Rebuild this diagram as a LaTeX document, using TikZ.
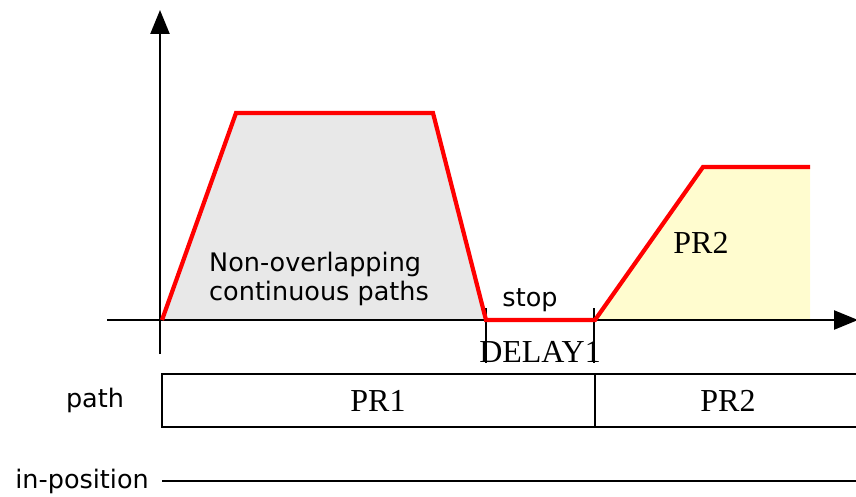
\documentclass[tikz,border=0pt]{standalone}
\usepackage{fontspec}
\setmainfont{Liberation Serif}
\newfontfamily\labelfont{DejaVu Sans}
\usetikzlibrary{arrows.meta}
\definecolor{grayfill}{HTML}{E8E8E8}
\definecolor{yellowfill}{HTML}{FFFCCF}
\tikzset{
  axis/.style={line width=2.4pt,-{Triangle[length=24pt,width=19pt]}},
  profile/.style={red,line width=4.2pt,line join=miter},
  frame/.style={line width=1.8pt},
  sanslabel/.style={font=\labelfont\fontsize{25.5}{29}\selectfont,inner sep=0pt},
  seriflabel/.style={font=\fontsize{32}{34}\selectfont,inner sep=0pt},
}
\begin{document}
\begin{tikzpicture}[x=1pt,y=-1pt]
\useasboundingbox (0,0) rectangle (856,497);
% key points
\coordinate (o) at (162,320);
\coordinate (a) at (236,113);
\coordinate (b) at (433,113);
\coordinate (c) at (486,320);
\coordinate (d) at (595,320);
\coordinate (e) at (703,167);
\coordinate (f) at (810,167);
\coordinate (g) at (810,320);
% fills
\fill[grayfill] (o) -- (a) -- (b) -- (c) -- cycle;
\fill[yellowfill] (d) -- (e) -- (f) -- (g) -- cycle;
% axes
\coordinate (vbot) at (160,354);
\coordinate (vtop) at (160,10);
\coordinate (hleft) at (107,320);
\coordinate (hright) at (858,320);
\draw[axis] (vbot) -- (vtop);
\draw[axis] (hleft) -- (hright);
% delay ticks
\coordinate (c1) at (486,308);
\coordinate (c2) at (486,363);
\coordinate (d1) at (594,308);
\coordinate (d2) at (594,363);
\draw[frame] (c1) -- (c2);
\draw[frame] (d1) -- (d2);
% profile
\draw[profile] (o) -- (a) -- (b) -- (c) -- (d) -- (e) -- (f);
% labels
\node[sanslabel,align=left,anchor=west] (txt) at (209,279) {Non-overlapping\\continuous paths};
\node[sanslabel] (stop) at (530,300) {stop};
\node[seriflabel] (delay) at (540,352) {DELAY1};
\node[seriflabel] (pr2a) at (701,243) {PR2};
% path row
\coordinate (p1) at (162,374);
\coordinate (p2) at (857,374);
\coordinate (p3) at (857,427);
\coordinate (p4) at (162,427);
\coordinate (pm1) at (595,374);
\coordinate (pm2) at (595,427);
\draw[frame] (p2) -- (p1) -- (p4) -- (p3);
\draw[frame] (pm1) -- (pm2);
\node[sanslabel] (pathlbl) at (95,400) {path};
\node[seriflabel] (pr1) at (378,401) {PR1};
\node[seriflabel] (pr2b) at (728,401) {PR2};
% in-position row
\node[sanslabel,anchor=east] (inpos) at (149,481) {in-position};
\coordinate (i2) at (857,481);
\draw[frame] (inpos.east) ++(13,0) coordinate (i1) -- (i2);
\end{tikzpicture}
\end{document}
